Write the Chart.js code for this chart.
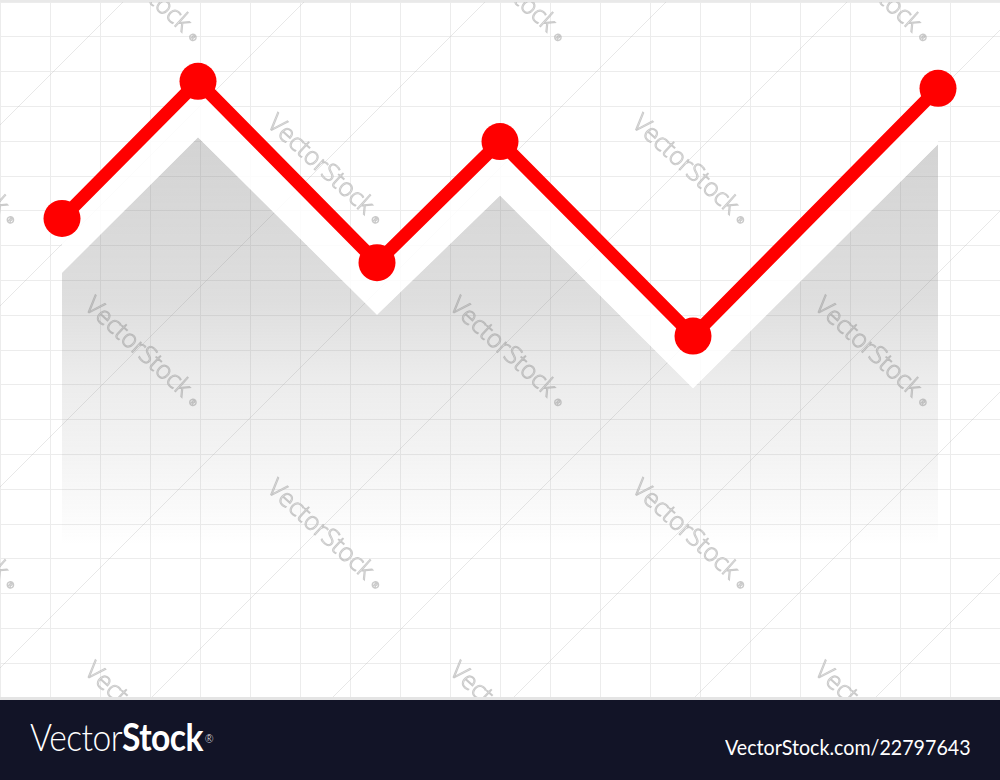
<!DOCTYPE html>
<html>
<head>
<meta charset="utf-8">
<script src="https://cdn.jsdelivr.net/npm/chart.js@4/dist/chart.umd.min.js"></script>
<style>
  html, body { margin: 0; padding: 0; background: #fff; }
  #wrap { position: relative; width: 1000px; height: 700px; background: #fff; }
  #wrap .edge-top { position: absolute; left: 0; top: 0; width: 1000px; height: 2px; background: #e9e9e9; }
  #wrap .edge-bottom { position: absolute; left: 0; top: 697px; width: 1000px; height: 3px; background: #e4e4e4; }
  #chart { position: absolute; left: 0; top: 0; }
  .footer { position: relative; width: 1000px; height: 80px; background: #121427; color: #fff; overflow: hidden; }
  .brand { position: absolute; left: 30px; top: 13px; font-family: Lato, sans-serif; font-size: 38px; line-height: 46px;
           white-space: nowrap; letter-spacing: -0.6px; transform: scaleX(0.885); transform-origin: left top; }
  .brand .thin { font-weight: 300; }
  .brand .bold { font-weight: 700; }
  .brand sup { font-size: 12px; font-weight: 300; vertical-align: top; position: relative; top: 3px; margin-left: 2px; }
  .ref { position: absolute; left: 725px; top: 35px; font-family: Lato, sans-serif; font-size: 21px; line-height: 24px;
         white-space: nowrap; transform: scaleX(0.935); transform-origin: left top; }
</style>
</head>
<body>
<div id="wrap">
  <canvas id="chart" width="1000" height="698"></canvas>
  <div class="edge-top"></div>
  <div class="edge-bottom"></div>
</div>
<div class="footer">
  <div class="brand"><span class="thin">Vector</span><span class="bold">Stock</span><sup>®</sup></div>
  <div class="ref">VectorStock.com/22797643</div>
</div>

<script>
// values, in grid units (one cell = one unit)
const xPositions = [1.24, 3.96, 7.54, 10.0, 13.86, 18.76];
const lineValues = [13.78, 17.72, 12.51, 15.99, 10.40, 17.52];
const shadowValues = [12.22, 16.11, 11.01, 14.44, 8.90, 15.91];

const gridCols = 20;
const gridRows = 20;

const toPoints = (vals) => vals.map((v, i) => ({ x: xPositions[i], y: v }));

// faint diagonal "VectorStock" marks and hairlines behind the data
const watermarkPlugin = {
  id: "watermark",
  beforeDatasetsDraw(chart) {
    const ctx = chart.ctx;
    ctx.save();

    // thin rising hairlines
    ctx.strokeStyle = "rgba(190,190,190,0.35)";
    ctx.lineWidth = 1;
    for (let c = 125; c < 2000; c += 181) {
      ctx.beginPath();
      ctx.moveTo(c - 800, 800);
      ctx.lineTo(c + 100, -100);
      ctx.stroke();
    }

    ctx.textAlign = "center";
    ctx.textBaseline = "middle";
    for (let j = -2; j <= 3; j++) {
      for (let k = -3; k <= 4; k++) {
        const cx = 320 + 365 * k + 182.5 * j;
        const cy = 165 + 182.5 * j;
        if (cx < -120 || cx > 1120 || cy < -120 || cy > 820) continue;
        ctx.save();
        ctx.translate(cx, cy);
        ctx.rotate(Math.PI * 0.235);
        ctx.font = "300 25px 'Open Sans', sans-serif";
        ctx.lineWidth = 1;
        ctx.strokeStyle = "rgba(150,150,150,0.5)";
        ctx.fillStyle = "rgba(255,255,255,0.8)";
        ctx.fillText("VectorStock", 0, 0);
        ctx.strokeText("VectorStock", 0, 0);
        ctx.font = "300 9px 'Open Sans', sans-serif";
        ctx.strokeText("®", 78, 4);
        ctx.restore();
      }
    }
    ctx.restore();
  },
};

function shadowFill(context) {
  const chart = context.chart;
  if (!chart.chartArea) return "rgba(200,200,200,0.3)";
  const g = chart.ctx.createLinearGradient(0, 130, 0, 545);
  g.addColorStop(0, "rgba(120,120,120,0.33)");
  g.addColorStop(0.41, "rgba(120,120,120,0.245)");
  g.addColorStop(0.6, "rgba(120,120,120,0.14)");
  g.addColorStop(0.77, "rgba(120,120,120,0.09)");
  g.addColorStop(0.96, "rgba(120,120,120,0.02)");
  g.addColorStop(1, "rgba(120,120,120,0)");
  return g;
}

new Chart(document.getElementById("chart"), {
  type: "line",
  data: {
    datasets: [
      {
        data: toPoints(lineValues),
        borderColor: "#ff0000",
        backgroundColor: "rgba(255,255,255,0.85)",
        borderWidth: 13,
        pointRadius: 18.5,
        pointHoverRadius: 18.5,
        pointBorderWidth: 0,
        pointBackgroundColor: "#ff0000",
        tension: 0,
        fill: 1,
      },
      {
        data: toPoints(shadowValues),
        borderWidth: 0,
        borderColor: "rgba(0,0,0,0)",
        backgroundColor: shadowFill,
        pointRadius: 0,
        tension: 0,
        fill: "origin",
      },
    ],
  },
  options: {
    responsive: false,
    devicePixelRatio: 1,
    animation: false,
    layout: { padding: { top: 2, bottom: 0, left: 0, right: 0 }, autoPadding: false },
    plugins: { legend: { display: false }, tooltip: { enabled: false } },
    scales: {
      x: {
        type: "linear",
        min: 0,
        max: gridCols,
        ticks: { display: false, stepSize: 1 },
        grid: { color: "#ececec", lineWidth: 1, drawTicks: false },
        border: { display: false },
      },
      y: {
        min: 0,
        max: gridRows,
        ticks: { display: false, stepSize: 1 },
        grid: { color: "#ececec", lineWidth: 1, drawTicks: false },
        border: { display: false },
      },
    },
  },
  plugins: [watermarkPlugin],
});
</script>
</body>
</html>
